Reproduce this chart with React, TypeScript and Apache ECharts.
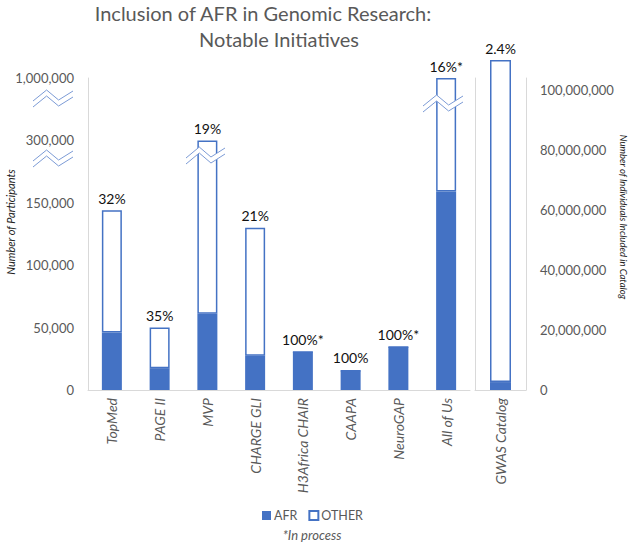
import React, { useEffect, useRef } from 'react';
import * as echarts from 'echarts';

const categories = ['TopMed', 'PAGE II', 'MVP', 'CHARGE GLI', 'H3Africa CHAIR', 'CAAPA', 'NeuroGAP', 'All of Us'];
const afrCounts = [46000, 17500, 61000, 27500, 30500, 15500, 34500, 177000];
const totalCounts = [144000, 50000, 300000, 130000, 30500, 15500, 34500, 1000000];
const pctLabels = ['32%', '35%', '19%', '21%', '100%*', '100%', '100%*', '16%*'];
const leftTickValues = [0, 50000, 100000, 150000, 300000, 1000000];

const gwasCategory = ['GWAS Catalog'];
const gwasAfr = [2640000];
const gwasTotal = [110000000];
const gwasPct = ['2.4%'];
const rightTickStep = 20000000;
const rightAxisMax = 104000000;

function brokenScale(v: number): number {
  for (let i = 0; i < leftTickValues.length - 1; i++) {
    const lo = leftTickValues[i];
    const hi = leftTickValues[i + 1];
    if (v <= hi) return i + (v - lo) / (hi - lo);
  }
  return leftTickValues.length - 1;
}

export default function App() {
  const ref = useRef<HTMLDivElement>(null);
  useEffect(() => {
    const chart = echarts.init(ref.current!, null, { renderer: 'svg' });
    const FONT = 'Lato';
    const gray = '#595959';
    const blue = '#4472C4';
    const breakColor = '#7c9bd6';
    const axisGray = '#d9d9d9';

    const zig = (x0: number, y0: number, w: number) => {
      const shape = [[0, 0], [0.34, -11], [0.64, -1], [1, -10]];
      const p1 = shape.map(([fx, dy]) => [x0 + fx * w, y0 + dy]);
      const p2 = p1.map(([x, y]) => [x, y + 6]);
      return [
        { type: 'polygon', z: 100, shape: { points: [...p1, ...p2.slice().reverse()] }, style: { fill: '#ffffff' } },
        { type: 'polyline', z: 101, shape: { points: p1 }, style: { stroke: breakColor, lineWidth: 1, fill: null } },
        { type: 'polyline', z: 101, shape: { points: p2 }, style: { stroke: breakColor, lineWidth: 1, fill: null } },
      ];
    };

    const afrScaled = afrCounts.map(brokenScale);
    const otherScaled = totalCounts.map((t, i) => brokenScale(t) - afrScaled[i]);
    const gwasOther = gwasTotal.map((t, i) => t - gwasAfr[i]);

    const catLabel = { rotate: 90, fontStyle: 'italic', fontSize: 14, color: gray, margin: 8, fontFamily: FONT };

    const option: any = {
      animation: false,
      textStyle: { fontFamily: FONT },
      legend: {
        data: ['AFR', 'OTHER'],
        left: 262,
        top: 509,
        padding: 0,
        itemWidth: 9,
        itemHeight: 9,
        itemGap: 11,
        icon: 'rect',
        textStyle: { fontSize: 12.5, color: gray, fontFamily: FONT, padding: [0, 0, 0, -2] },
      },
      grid: [
        { left: 88, top: 78, width: 382, height: 312 },
        { left: 475, top: 78, width: 51, height: 312 },
      ],
      xAxis: [
        {
          type: 'category', gridIndex: 0, data: categories,
          axisLine: { lineStyle: { color: axisGray } }, axisTick: { show: false },
          axisLabel: catLabel,
        },
        {
          type: 'category', gridIndex: 1, data: gwasCategory,
          axisLine: { lineStyle: { color: axisGray } }, axisTick: { show: false },
          axisLabel: catLabel,
        },
      ],
      yAxis: [
        {
          type: 'value', gridIndex: 0, min: 0, max: leftTickValues.length - 1, interval: 1,
          splitLine: { show: false }, axisTick: { show: false },
          axisLine: { show: true, lineStyle: { color: axisGray } },
          axisLabel: {
            fontSize: 13, color: gray, margin: 14, fontFamily: FONT,
            formatter: (v: number) => leftTickValues[Math.round(v)].toLocaleString('en-US'),
          },
        },
        {
          type: 'value', gridIndex: 1, position: 'right', min: 0, max: rightAxisMax, interval: rightTickStep,
          splitLine: { show: false }, axisTick: { show: false },
          axisLine: { show: true, lineStyle: { color: axisGray } },
          axisLabel: {
            fontSize: 13, color: gray, margin: 14, fontFamily: FONT,
            formatter: (v: number) => (v % rightTickStep === 0 ? v.toLocaleString('en-US') : ''),
          },
        },
        {
          type: 'value', gridIndex: 1, position: 'left', min: 0, max: rightAxisMax, interval: rightTickStep,
          splitLine: { show: false }, axisTick: { show: false }, axisLabel: { show: false },
          axisLine: { show: true, lineStyle: { color: axisGray } },
        },
      ],
      series: [
        {
          name: 'AFR', type: 'bar', stack: 'main', xAxisIndex: 0, yAxisIndex: 0, barWidth: 20,
          data: afrScaled, itemStyle: { color: blue },
        },
        {
          name: 'OTHER', type: 'bar', stack: 'main', xAxisIndex: 0, yAxisIndex: 0, barWidth: 20,
          data: otherScaled,
          itemStyle: { color: '#ffffff', borderColor: blue, borderWidth: 1.5 },
          label: {
            show: true, position: 'top', distance: 5, fontSize: 14, color: '#111', fontFamily: FONT,
            formatter: (p: any) => pctLabels[p.dataIndex],
          },
        },
        {
          name: 'AFR', type: 'bar', stack: 'gwas', xAxisIndex: 1, yAxisIndex: 1, barWidth: 21,
          data: gwasAfr, itemStyle: { color: blue }, clip: false,
        },
        {
          name: 'OTHER', type: 'bar', stack: 'gwas', xAxisIndex: 1, yAxisIndex: 1, barWidth: 21,
          data: gwasOther, clip: false,
          itemStyle: { color: '#ffffff', borderColor: blue, borderWidth: 1.5 },
          label: {
            show: true, position: 'top', distance: 5, fontSize: 14, color: '#111', fontFamily: FONT,
            formatter: (p: any) => gwasPct[p.dataIndex],
          },
        },
      ],
      graphic: [
        { type: 'text', x: 263, y: 13, style: { text: 'Inclusion of AFR in Genomic Research:', fontSize: 20, fontFamily: FONT, fill: gray, textAlign: 'center', textVerticalAlign: 'middle' } },
        { type: 'text', x: 279, y: 39, style: { text: 'Notable Initiatives', fontSize: 20, fontFamily: FONT, fill: gray, textAlign: 'center', textVerticalAlign: 'middle' } },
        { type: 'text', x: 10, y: 222, rotation: Math.PI / 2, style: { text: 'Number of Participants', fontSize: 11, fontStyle: 'italic', fontFamily: FONT, fill: '#222', textAlign: 'center', textVerticalAlign: 'middle' } },
        { type: 'text', x: 623, y: 217, rotation: -Math.PI / 2, style: { text: 'Number of Individuals Included in Catalog', fontSize: 9.5, fontStyle: 'italic', fontFamily: FONT, fill: '#222', textAlign: 'center', textVerticalAlign: 'middle' } },
        { type: 'text', x: 312, y: 535, style: { text: '*In process', fontSize: 13, fontStyle: 'italic', fontFamily: FONT, fill: gray, textAlign: 'center', textVerticalAlign: 'middle' } },
        ...zig(33, 101, 40),
        ...zig(33, 161, 40),
        ...zig(186, 158, 39),
        ...zig(423, 106, 40),
      ],
    };
    chart.setOption(option);
    return () => chart.dispose();
  }, []);
  return <div ref={ref} style={{ position: 'absolute', left: 0, top: 0, width: 630, height: 543 }} />;
}
